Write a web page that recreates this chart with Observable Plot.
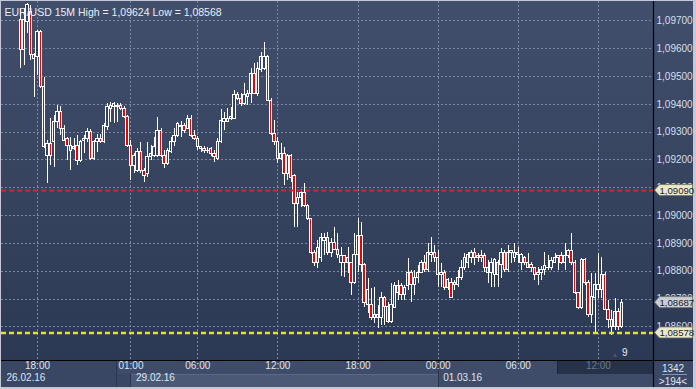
<!DOCTYPE html>
<html><head><meta charset="utf-8">
<script src="https://cdn.jsdelivr.net/npm/d3@7"></script>
<script src="https://cdn.jsdelivr.net/npm/@observablehq/plot@0.6"></script>
<style>
html,body{margin:0;padding:0;background:#c3cad5;}
#chart{width:696px;height:389px;overflow:hidden;}
svg{display:block;}
</style></head><body><div id="chart"></div>
<script>
const title = "EUR/USD 15M High = 1,09624 Low = 1,08568";

const open = [
1.09702,1.09594,1.09695,1.09731,1.09565,1.09569,1.09659,1.09464,1.09216,1.09259,
1.09263,1.09335,1.09374,1.09313,1.09277,1.09234,1.09248,1.09252,1.09198,1.09270,
1.09274,1.09302,1.09202,1.09263,1.09274,1.09263,1.09320,1.09385,1.09392,1.09396,
1.09396,1.09385,1.09356,1.09252,1.09180,1.09162,1.09227,1.09162,1.09151,1.09209,
1.09216,1.09216,1.09306,1.09216,1.09184,1.09227,1.09263,1.09288,1.09317,1.09324,
1.09313,1.09349,1.09288,1.09277,1.09238,1.09241,1.09234,1.09238,1.09223,1.09205,
1.09263,1.09338,1.09338,1.09346,1.09349,1.09432,1.09421,1.09403,1.09425,1.09439,
1.09511,1.09439,1.09522,1.09529,1.09569,1.09414,1.09295,1.09263,1.09205,1.09223,
1.09151,1.09216,1.09141,1.09040,1.09062,1.09080,1.09036,1.08986,1.08864,1.08831,
1.08846,1.08910,1.08918,1.08867,1.08900,1.08878,1.08831,1.08853,1.08849,1.08828,
1.08759,1.08857,1.08928,1.08824,1.08680,1.08680,1.08633,1.08644,1.08630,1.08702,
1.08673,1.08619,1.08669,1.08723,1.08745,1.08713,1.08745,1.08795,1.08749,1.08774,
1.08795,1.08831,1.08803,1.08857,1.08864,1.08849,1.08785,1.08792,1.08741,1.08756,
1.08759,1.08749,1.08774,1.08813,1.08831,1.08846,1.08864,1.08849,1.08853,1.08853,
1.08813,1.08792,1.08785,1.08828,1.08821,1.08864,1.08803,1.08864,1.08846,1.08867,
1.08831,1.08846,1.08831,1.08824,1.08810,1.08785,1.08792,1.08803,1.08810,1.08810,
1.08831,1.08849,1.08853,1.08828,1.08853,1.08871,1.08828,1.08720,1.08669,1.08842,
1.08756,1.08641,1.08705,1.08731,1.08731,1.08785,1.08662,1.08623,1.08598,1.08655,1.08601];

const high = [
1.09745,1.09745,1.09763,1.09756,1.09583,1.09666,1.09666,1.09497,1.09270,1.09349,
1.09360,1.09396,1.09392,1.09324,1.09281,1.09281,1.09277,1.09288,1.09270,1.09288,
1.09313,1.09310,1.09270,1.09292,1.09292,1.09331,1.09403,1.09407,1.09407,1.09403,
1.09403,1.09392,1.09360,1.09270,1.09223,1.09241,1.09263,1.09169,1.09263,1.09252,
1.09281,1.09353,1.09313,1.09234,1.09241,1.09281,1.09313,1.09335,1.09338,1.09331,
1.09360,1.09360,1.09306,1.09284,1.09248,1.09248,1.09245,1.09245,1.09234,1.09277,
1.09382,1.09371,1.09385,1.09389,1.09450,1.09443,1.09439,1.09475,1.09450,1.09529,
1.09547,1.09551,1.09587,1.09623,1.09576,1.09421,1.09342,1.09281,1.09259,1.09245,
1.09220,1.09220,1.09148,1.09083,1.09094,1.09115,1.09040,1.08990,1.08874,1.08910,
1.08936,1.08936,1.08939,1.08918,1.08957,1.08936,1.08885,1.08857,1.08885,1.08831,
1.08936,1.08990,1.08975,1.08828,1.08774,1.08738,1.08741,1.08677,1.08723,1.08709,
1.08687,1.08756,1.08759,1.08767,1.08756,1.08749,1.08846,1.08803,1.08803,1.08821,
1.08839,1.08857,1.08900,1.08921,1.08892,1.08874,1.08828,1.08803,1.08774,1.08774,
1.08767,1.08803,1.08839,1.08864,1.08867,1.08874,1.08882,1.08864,1.08874,1.08864,
1.08839,1.08846,1.08846,1.08839,1.08882,1.08874,1.08892,1.08874,1.08900,1.08885,
1.08864,1.08853,1.08864,1.08831,1.08813,1.08813,1.08817,1.08867,1.08857,1.08849,
1.08864,1.08857,1.08867,1.08900,1.08878,1.08936,1.08839,1.08723,1.08846,1.08846,
1.08767,1.08792,1.08792,1.08864,1.08849,1.08795,1.08695,1.08659,1.08702,1.08666,1.08698];

const low = [
1.09529,1.09540,1.09655,1.09558,1.09425,1.09504,1.09457,1.09241,1.09115,1.09180,
1.09173,1.09313,1.09288,1.09270,1.09198,1.09162,1.09234,1.09180,1.09191,1.09223,
1.09263,1.09198,1.09198,1.09227,1.09259,1.09259,1.09306,1.09335,1.09331,1.09335,
1.09378,1.09349,1.09245,1.09126,1.09151,1.09155,1.09151,1.09119,1.09137,1.09198,
1.09209,1.09209,1.09209,1.09169,1.09180,1.09223,1.09248,1.09281,1.09281,1.09295,
1.09310,1.09281,1.09270,1.09234,1.09227,1.09223,1.09223,1.09213,1.09191,1.09198,
1.09259,1.09306,1.09335,1.09342,1.09346,1.09414,1.09392,1.09396,1.09396,1.09403,
1.09436,1.09428,1.09515,1.09522,1.09410,1.09288,1.09252,1.09187,1.09198,1.09108,
1.09126,1.09119,1.08957,1.08957,1.09029,1.09029,1.08982,1.08860,1.08817,1.08810,
1.08831,1.08857,1.08857,1.08849,1.08874,1.08846,1.08781,1.08777,1.08792,1.08713,
1.08752,1.08795,1.08795,1.08669,1.08648,1.08623,1.08612,1.08594,1.08605,1.08605,
1.08612,1.08612,1.08666,1.08695,1.08695,1.08695,1.08731,1.08687,1.08713,1.08756,
1.08792,1.08795,1.08795,1.08831,1.08831,1.08741,1.08741,1.08731,1.08731,1.08702,
1.08731,1.08741,1.08767,1.08803,1.08810,1.08828,1.08821,1.08831,1.08831,1.08795,
1.08756,1.08741,1.08741,1.08741,1.08774,1.08795,1.08795,1.08828,1.08831,1.08828,
1.08803,1.08821,1.08810,1.08795,1.08767,1.08749,1.08767,1.08785,1.08803,1.08803,
1.08828,1.08803,1.08824,1.08803,1.08846,1.08821,1.08716,1.08662,1.08662,1.08749,
1.08633,1.08612,1.08576,1.08702,1.08702,1.08659,1.08594,1.08569,1.08587,1.08587,1.08594];

const close = [
1.09597,1.09702,1.09756,1.09576,1.09576,1.09659,1.09464,1.09248,1.09259,1.09213,
1.09335,1.09371,1.09313,1.09270,1.09252,1.09252,1.09238,1.09198,1.09263,1.09277,
1.09302,1.09202,1.09263,1.09274,1.09263,1.09324,1.09389,1.09396,1.09400,1.09392,
1.09382,1.09356,1.09252,1.09180,1.09216,1.09227,1.09162,1.09144,1.09209,1.09220,
1.09245,1.09306,1.09216,1.09184,1.09234,1.09263,1.09288,1.09331,1.09324,1.09306,
1.09349,1.09288,1.09277,1.09245,1.09245,1.09234,1.09231,1.09223,1.09209,1.09263,
1.09342,1.09346,1.09349,1.09353,1.09432,1.09421,1.09403,1.09432,1.09439,1.09511,
1.09439,1.09529,1.09569,1.09569,1.09414,1.09295,1.09263,1.09205,1.09223,1.09151,
1.09216,1.09137,1.09040,1.09065,1.09080,1.09036,1.08986,1.08864,1.08831,1.08882,
1.08918,1.08918,1.08867,1.08900,1.08878,1.08857,1.08853,1.08831,1.08828,1.08759,
1.08857,1.08928,1.08824,1.08684,1.08734,1.08633,1.08641,1.08630,1.08702,1.08673,
1.08619,1.08677,1.08745,1.08745,1.08713,1.08741,1.08795,1.08749,1.08774,1.08795,
1.08831,1.08803,1.08864,1.08864,1.08849,1.08785,1.08795,1.08741,1.08770,1.08705,
1.08749,1.08774,1.08813,1.08846,1.08857,1.08864,1.08849,1.08853,1.08849,1.08813,
1.08792,1.08831,1.08839,1.08785,1.08864,1.08803,1.08867,1.08871,1.08867,1.08860,
1.08857,1.08831,1.08813,1.08810,1.08785,1.08795,1.08806,1.08817,1.08813,1.08835,
1.08846,1.08853,1.08828,1.08853,1.08871,1.08828,1.08720,1.08669,1.08839,1.08756,
1.08641,1.08709,1.08749,1.08749,1.08785,1.08662,1.08623,1.08601,1.08655,1.08598,1.08687];

const tickIdx    = [5, 33, 53, 77, 101, 125, 149, 173];
const tickLabels = ["18:00","01:00","06:00","12:00","18:00","00:00","06:00","12:00"];
const dateLabels = ["26.02.16","29.02.16","01.03.16"];
const dateStart  = [-5.78, 33, 125];
const daySeparators = [28.7, 125];
const viewStart = 160.7;
const gridPrices = [1.097,1.096,1.095,1.094,1.093,1.092,1.091,1.090,1.089,1.088,1.087,1.086];
const redLevel = 1.09090;
const yellowLevel = 1.08578;
const footerTop = "1342", footerBottom = ">194<";
const markerText = "9";

const FONT = "'Liberation Sans', Arial, sans-serif";
const fmt = v => d3.format(".5f")(v).replace(".", ",");
const candles = open.map((o, i) => ({i, o, h: high[i], l: low[i], c: close[i], up: close[i] >= o}));
const W = 696, H = 389, mL = 1, mR = 43, mT = 1, mB = 29;

const plot = Plot.plot({
  width: W, height: H,
  marginLeft: mL, marginRight: mR, marginTop: mT, marginBottom: mB,
  x: {domain: [-5.78, 189.5], axis: null},
  y: {domain: [1.084788, 1.097701], axis: null},
  style: {background: "transparent", fontFamily: FONT, fontSize: "10px", overflow: "visible"},
  marks: [
    Plot.ruleY(gridPrices, {stroke: "#7888a5", strokeDasharray: "2,2", strokeWidth: 1, shapeRendering: "crispEdges"}),
    Plot.ruleX(tickIdx, {stroke: "#7888a5", strokeDasharray: "2,2", strokeWidth: 1, shapeRendering: "crispEdges"}),
    Plot.ruleX(candles, {x: "i", y1: "h", y2: d => Math.max(d.o, d.c), stroke: "#ffffff", strokeWidth: 1, shapeRendering: "crispEdges"}),
    Plot.ruleX(candles, {x: "i", y1: d => Math.min(d.o, d.c), y2: "l", stroke: "#ffffff", strokeWidth: 1, shapeRendering: "crispEdges"}),
    Plot.rect(candles, {x1: d => d.i - 0.36, x2: d => d.i + 0.36, y1: "o", y2: "c",
      fill: d => d.up ? "#34425f" : "#f00000", stroke: "#ffffff", strokeWidth: 1, shapeRendering: "crispEdges"}),
    Plot.ruleY([redLevel], {stroke: "#e3201b", strokeWidth: 2, strokeDasharray: "5,3"}),
    Plot.ruleY([yellowLevel], {stroke: "#e8e22a", strokeWidth: 2.5, strokeDasharray: "5,3"}),
    Plot.text(gridPrices, {y: d => d, frameAnchor: "right", dx: 3, textAnchor: "start", text: d => fmt(d), fill: "#d6deeb", fontSize: 10}),
    Plot.text(tickLabels, {x: (d, i) => tickIdx[i], frameAnchor: "bottom", dy: 8, text: d => d,
      fill: (d, i) => tickIdx[i] >= viewStart ? "#6b7a93" : "#dfe6f1", fontSize: 10}),
    Plot.text(dateLabels, {x: (d, i) => dateStart[i], frameAnchor: "bottom", dy: 20, dx: 5, textAnchor: "start", text: d => d, fill: "#dfe6f1", fontSize: 10}),
    Plot.text([title], {frameAnchor: "top-left", dx: 3, dy: 7, textAnchor: "start", text: d => d, fill: "#e8edf6", fontSize: 10.5}),
    Plot.text([markerText], {frameAnchor: "bottom-right", dx: -26, dy: -5, text: d => d, fill: "#e8edf6", fontSize: 10}),
    Plot.text(["▲"], {frameAnchor: "bottom-right", dx: -35, dy: -4, text: d => d, fill: "#4a5366", fontSize: 7})
  ]
});

const svg = d3.select(plot);
const xs = plot.scale("x"), ys = plot.scale("y");
const X = v => xs.apply(v), Y = v => ys.apply(v);
const R = W - mR, B = H - mB;

const defs = svg.insert("defs", ":first-child");
const gr = defs.append("linearGradient").attr("id", "bgg").attr("x1", 0).attr("y1", 0).attr("x2", 0).attr("y2", 1);
gr.append("stop").attr("offset", "0%").attr("stop-color", "#424f6c");
gr.append("stop").attr("offset", "100%").attr("stop-color", "#2b3954");

const bg = svg.insert("g", "defs + *");
bg.append("rect").attr("x", 0).attr("y", 0).attr("width", W).attr("height", H).attr("fill", "#c3cad5");
bg.append("rect").attr("x", mL).attr("y", mT).attr("width", W - mL - 3).attr("height", B - mT).attr("fill", "url(#bgg)");
// bottom time panel
const A = "#394664", Bc = "#3e4c69", C = "#4b5976", D = "#26324a";
const sep1 = Math.round(X(daySeparators[0])), sep2 = Math.round(X(daySeparators[1]));
const c1 = Math.round(X(dateStart[1])), vs = Math.round(X(viewStart));
bg.append("rect").attr("x", mL).attr("y", B).attr("width", sep1 - mL).attr("height", 27).attr("fill", A);
bg.append("rect").attr("x", sep1).attr("y", B).attr("width", R - sep1).attr("height", 14).attr("fill", Bc);
bg.append("rect").attr("x", sep1).attr("y", B + 14).attr("width", c1 - sep1).attr("height", 13).attr("fill", A);
bg.append("rect").attr("x", c1).attr("y", B + 14).attr("width", sep2 - c1).attr("height", 13).attr("fill", C);
bg.append("line").attr("x1", c1).attr("x2", sep2).attr("y1", B + 14.5).attr("y2", B + 14.5).attr("stroke", "#5a6886");
bg.append("rect").attr("x", sep2).attr("y", B + 14).attr("width", R - sep2).attr("height", 13).attr("fill", Bc);
bg.append("rect").attr("x", vs).attr("y", B + 1).attr("width", R - vs).attr("height", 13).attr("fill", D);
bg.append("line").attr("x1", vs + 0.5).attr("x2", vs + 0.5).attr("y1", B + 1).attr("y2", B + 14).attr("stroke", "#1c2537");
for (const s of [sep1, sep2, c1]) {
  bg.append("line").attr("x1", s + 0.5).attr("x2", s + 0.5).attr("y1", s === c1 ? B + 14 : B).attr("y2", B + 27).attr("stroke", "#2a3550");
}
// right footer panel
bg.append("rect").attr("x", R).attr("y", B).attr("width", W - R - 3).attr("height", 27).attr("fill", "#3b4865");

// frame lines and overlays on top
const overlay = svg.append("g").attr("text-anchor", "start");
overlay.append("line").attr("x1", R + 0.5).attr("x2", R + 0.5).attr("y1", mT).attr("y2", B + 27).attr("stroke", "#000").attr("stroke-width", 1.2);
overlay.append("line").attr("x1", mL).attr("x2", W - 3).attr("y1", B + 0.5).attr("y2", B + 0.5).attr("stroke", "#000").attr("stroke-width", 1.2);
overlay.append("text").attr("x", (R + W - 3) / 2).attr("y", B + 8).attr("dy", "0.35em").attr("text-anchor", "middle")
  .attr("font-family", FONT).attr("font-size", 10).attr("fill", "#dfe6f1").text(footerTop);
overlay.append("line").attr("x1", R + 9).attr("x2", W - 9).attr("y1", B + 14.5).attr("y2", B + 14.5).attr("stroke", "#8795ad");
overlay.append("text").attr("x", (R + W - 3) / 2).attr("y", B + 21).attr("dy", "0.35em").attr("text-anchor", "middle")
  .attr("font-family", FONT).attr("font-size", 10).attr("fill", "#dfe6f1").text(footerBottom);

function tag(v, fill) {
  const y = Y(v);
  const g = overlay.append("g");
  g.append("path").attr("d", `M${R + 1.5},${y} L${R + 6.5},${y - 5.5} H${W - 3.5} V${y + 5.5} H${R + 6.5} Z`)
    .attr("fill", fill).attr("stroke", "#6f7466").attr("stroke-width", 0.8);
  g.append("text").attr("x", R + 6.5).attr("y", y).attr("dy", "0.36em").attr("text-anchor", "start")
    .attr("font-family", FONT).attr("font-size", 9.6).attr("fill", "#1b2233").text(fmt(v));
}
tag(redLevel, "#ebe7c9");
tag(close[close.length - 1], "#c9cdd4");
tag(yellowLevel, "#ebe7c9");

document.getElementById("chart").appendChild(plot);
</script></body></html>
